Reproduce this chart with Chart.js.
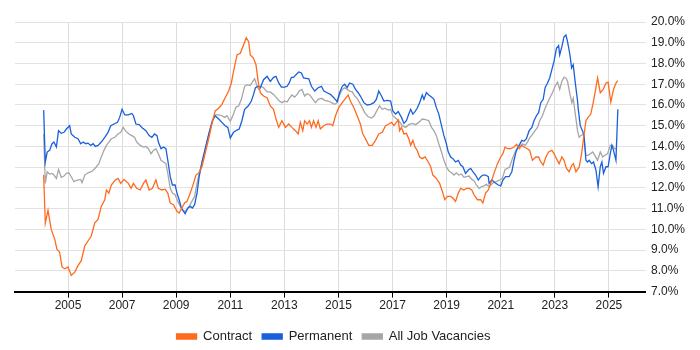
<!DOCTYPE html>
<html>
<head>
<meta charset="utf-8">
<script src="https://cdn.jsdelivr.net/npm/chart.js@4.4.1/dist/chart.umd.min.js"></script>
<style>
html,body{margin:0;padding:0;background:#fff;}
#wrap{width:700px;height:350px;}
</style>
</head>
<body>
<div id="wrap"><canvas id="c" width="700" height="350"></canvas></div>
<script>
const seriesNames = ["Contract", "Permanent", "All Job Vacancies"];
const xTickYears = [2005, 2007, 2009, 2011, 2013, 2015, 2017, 2019, 2021, 2023, 2025];
const yTickValues = [7, 8, 9, 10, 11, 12, 13, 14, 15, 16, 17, 18, 19, 20];

const contractYears = [2004.10,2004.16,2004.26,2004.38,2004.51,2004.59,2004.69,2004.78,2004.88,2005.00,2005.12,2005.25,2005.37,2005.49,2005.62,2005.74,2005.86,2005.99,2006.11,2006.23,2006.36,2006.42,2006.51,2006.60,2006.75,2006.85,2006.95,2007.07,2007.23,2007.33,2007.42,2007.54,2007.67,2007.79,2007.88,2008.00,2008.12,2008.25,2008.34,2008.47,2008.59,2008.69,2008.78,2008.90,2009.03,2009.11,2009.21,2009.31,2009.40,2009.52,2009.64,2009.73,2009.83,2009.95,2010.07,2010.20,2010.32,2010.44,2010.57,2010.69,2010.81,2010.94,2011.04,2011.12,2011.25,2011.37,2011.49,2011.59,2011.68,2011.74,2011.86,2011.95,2012.03,2012.11,2012.23,2012.36,2012.48,2012.60,2012.69,2012.79,2012.91,2013.04,2013.16,2013.28,2013.41,2013.51,2013.59,2013.68,2013.75,2013.84,2013.93,2014.00,2014.08,2014.17,2014.25,2014.33,2014.45,2014.58,2014.70,2014.79,2014.89,2015.01,2015.14,2015.23,2015.36,2015.44,2015.57,2015.69,2015.81,2015.90,2016.00,2016.12,2016.25,2016.37,2016.49,2016.62,2016.74,2016.86,2016.96,2017.05,2017.14,2017.21,2017.26,2017.33,2017.42,2017.51,2017.60,2017.67,2017.75,2017.83,2017.91,2018.00,2018.10,2018.20,2018.32,2018.41,2018.49,2018.62,2018.74,2018.84,2018.93,2019.03,2019.15,2019.23,2019.33,2019.43,2019.52,2019.64,2019.73,2019.83,2019.93,2020.01,2020.14,2020.26,2020.34,2020.44,2020.54,2020.63,2020.75,2020.88,2021.00,2021.08,2021.16,2021.25,2021.37,2021.49,2021.59,2021.68,2021.78,2021.86,2021.99,2022.07,2022.17,2022.30,2022.40,2022.48,2022.57,2022.67,2022.77,2022.89,2022.97,2023.06,2023.16,2023.26,2023.34,2023.43,2023.53,2023.63,2023.69,2023.78,2023.90,2023.99,2024.06,2024.15,2024.23,2024.33,2024.43,2024.52,2024.58,2024.68,2024.79,2024.89,2024.97,2025.07,2025.17,2025.26,2025.33];
const contractValues = [12.62,10.30,10.92,10.00,9.52,9.05,8.90,8.19,8.10,8.19,7.78,7.94,8.25,8.49,9.21,9.44,9.68,10.32,10.48,11.11,11.43,11.90,11.75,12.14,12.38,12.46,12.22,12.41,12.22,11.98,12.22,11.98,11.90,12.22,12.38,11.90,11.98,12.38,11.98,11.90,11.94,11.75,11.27,11.19,10.87,10.79,11.03,11.27,11.35,11.75,12.22,12.62,12.70,13.02,13.65,14.37,15.08,15.71,15.84,16.03,16.35,16.67,17.06,17.62,18.41,18.49,18.89,19.24,19.05,18.41,18.25,17.94,17.14,16.59,16.43,16.35,15.95,15.79,15.32,14.92,15.24,14.92,15.08,14.92,14.76,14.60,15.16,14.76,15.24,15.08,15.24,14.92,15.24,14.92,15.24,14.84,15.00,15.08,15.08,15.00,15.48,15.87,16.11,16.27,16.48,16.19,15.87,15.48,15.08,14.60,14.37,14.05,14.05,14.29,14.60,14.68,15.00,15.08,15.16,15.00,15.16,15.27,14.76,14.92,14.60,14.63,14.37,14.05,14.29,13.97,13.81,13.49,13.41,13.49,13.25,13.02,12.62,12.46,12.22,11.83,11.43,11.59,11.59,11.51,11.35,11.75,11.98,11.90,11.98,11.98,11.90,11.67,11.43,11.43,11.27,11.75,11.90,12.22,12.70,13.17,13.49,13.65,13.97,13.89,13.89,13.97,14.10,13.89,14.05,13.97,13.89,13.81,13.33,13.49,13.49,13.25,13.10,13.49,13.73,13.81,13.65,13.41,13.17,13.49,13.33,12.94,12.78,13.10,13.17,12.78,13.00,13.65,14.37,15.24,15.40,15.56,16.19,16.83,17.30,16.59,16.75,17.06,17.10,16.14,16.75,17.06,17.17];

const permanentYears = [2004.10,2004.16,2004.23,2004.32,2004.41,2004.48,2004.57,2004.65,2004.75,2004.85,2004.94,2005.06,2005.12,2005.25,2005.37,2005.47,2005.56,2005.66,2005.74,2005.84,2005.93,2006.01,2006.11,2006.23,2006.36,2006.48,2006.58,2006.70,2006.83,2006.91,2007.00,2007.10,2007.23,2007.36,2007.42,2007.51,2007.63,2007.75,2007.88,2008.00,2008.10,2008.20,2008.29,2008.34,2008.44,2008.53,2008.62,2008.69,2008.78,2008.86,2008.96,2009.03,2009.11,2009.19,2009.27,2009.33,2009.43,2009.52,2009.60,2009.68,2009.77,2009.85,2009.97,2010.10,2010.22,2010.34,2010.44,2010.57,2010.69,2010.81,2010.91,2011.00,2011.12,2011.25,2011.33,2011.43,2011.53,2011.66,2011.78,2011.86,2011.93,2012.03,2012.11,2012.23,2012.36,2012.48,2012.60,2012.69,2012.79,2012.89,2013.01,2013.10,2013.18,2013.26,2013.34,2013.43,2013.53,2013.63,2013.71,2013.84,2013.90,2014.00,2014.12,2014.25,2014.37,2014.46,2014.58,2014.70,2014.83,2014.95,2015.04,2015.14,2015.23,2015.32,2015.41,2015.53,2015.63,2015.73,2015.81,2015.94,2016.06,2016.19,2016.31,2016.40,2016.49,2016.59,2016.68,2016.80,2016.93,2017.01,2017.11,2017.21,2017.33,2017.42,2017.51,2017.60,2017.67,2017.75,2017.83,2017.91,2018.00,2018.10,2018.16,2018.25,2018.34,2018.44,2018.53,2018.62,2018.71,2018.81,2018.90,2018.99,2019.06,2019.15,2019.23,2019.33,2019.43,2019.52,2019.60,2019.70,2019.80,2019.89,2019.97,2020.07,2020.17,2020.26,2020.34,2020.44,2020.54,2020.57,2020.67,2020.79,2020.91,2021.00,2021.08,2021.18,2021.31,2021.41,2021.49,2021.58,2021.68,2021.78,2021.86,2021.95,2022.05,2022.15,2022.23,2022.32,2022.40,2022.48,2022.57,2022.64,2022.73,2022.81,2022.89,2022.97,2023.06,2023.14,2023.18,2023.26,2023.34,2023.41,2023.47,2023.56,2023.62,2023.68,2023.75,2023.84,2023.86,2023.94,2024.02,2024.08,2024.15,2024.21,2024.27,2024.36,2024.43,2024.52,2024.60,2024.68,2024.74,2024.80,2024.89,2024.97,2025.05,2025.11,2025.17,2025.26,2025.33];
const permanentValues = [15.75,13.25,13.73,13.81,14.13,14.21,13.97,14.76,14.63,14.68,14.84,15.00,14.60,14.44,14.37,14.13,14.21,14.13,14.16,14.05,14.13,14.00,14.05,14.21,14.44,14.68,15.00,15.08,15.16,15.40,15.79,15.52,15.52,15.59,15.48,15.08,15.05,14.89,14.76,14.52,14.44,14.60,14.52,14.21,13.89,13.97,13.89,13.33,12.54,12.14,12.14,11.75,11.43,11.03,10.87,10.76,11.03,11.11,11.03,11.19,11.75,12.54,13.33,14.05,14.68,15.24,15.48,15.32,15.16,15.00,14.92,14.41,14.68,14.79,14.84,15.24,15.79,15.95,16.19,16.51,16.83,16.90,16.83,17.22,17.38,17.14,17.33,17.38,17.06,16.86,16.86,16.90,17.06,17.33,17.33,17.46,17.59,17.54,17.30,17.27,17.27,16.90,16.67,16.83,16.90,16.67,16.59,16.51,16.35,16.16,16.59,16.90,17.00,16.83,17.06,17.00,16.75,16.59,16.43,16.11,16.00,16.03,16.11,16.27,16.67,16.43,16.19,16.22,16.19,15.71,15.56,15.68,15.40,15.11,15.24,15.56,15.79,15.56,15.68,15.84,16.11,16.48,16.27,16.59,16.48,16.38,16.27,15.87,15.56,15.00,14.52,14.13,13.73,13.49,13.41,13.25,13.33,13.10,13.02,12.70,12.86,12.94,12.78,12.62,12.38,12.54,12.62,12.62,12.54,12.22,12.38,12.25,12.14,12.10,12.38,12.54,12.54,12.78,13.33,13.81,14.05,14.29,14.25,14.37,14.76,14.92,15.24,15.48,15.63,16.11,16.27,16.83,17.06,17.30,17.70,18.10,18.73,18.86,18.41,18.81,19.29,19.37,19.05,18.41,17.78,17.94,17.14,16.19,15.87,15.00,14.76,14.52,13.33,13.25,13.33,13.17,13.25,12.86,12.06,13.02,13.25,12.70,13.02,13.02,13.65,14.05,13.81,13.33,15.79];

const allYears = [2004.10,2004.16,2004.23,2004.32,2004.41,2004.48,2004.57,2004.65,2004.75,2004.85,2004.94,2005.03,2005.12,2005.22,2005.34,2005.47,2005.52,2005.62,2005.74,2005.86,2005.96,2006.05,2006.14,2006.23,2006.33,2006.42,2006.51,2006.60,2006.73,2006.85,2006.95,2007.04,2007.12,2007.25,2007.36,2007.46,2007.54,2007.67,2007.79,2007.88,2007.97,2008.07,2008.16,2008.25,2008.34,2008.44,2008.53,2008.62,2008.69,2008.78,2008.86,2008.96,2009.06,2009.15,2009.23,2009.31,2009.40,2009.48,2009.58,2009.68,2009.77,2009.85,2009.97,2010.10,2010.22,2010.34,2010.44,2010.57,2010.69,2010.79,2010.88,2011.00,2011.12,2011.21,2011.31,2011.41,2011.53,2011.62,2011.74,2011.83,2011.90,2011.99,2012.05,2012.15,2012.23,2012.36,2012.48,2012.60,2012.73,2012.81,2012.91,2013.01,2013.10,2013.18,2013.28,2013.38,2013.47,2013.55,2013.65,2013.75,2013.84,2013.94,2014.03,2014.15,2014.25,2014.37,2014.49,2014.62,2014.74,2014.86,2014.95,2015.04,2015.14,2015.23,2015.32,2015.41,2015.51,2015.60,2015.69,2015.78,2015.88,2015.97,2016.10,2016.22,2016.32,2016.43,2016.52,2016.62,2016.71,2016.84,2016.93,2017.01,2017.11,2017.23,2017.36,2017.48,2017.60,2017.73,2017.85,2017.97,2018.10,2018.22,2018.34,2018.44,2018.53,2018.62,2018.71,2018.81,2018.90,2018.99,2019.08,2019.18,2019.27,2019.36,2019.45,2019.55,2019.64,2019.73,2019.83,2019.93,2020.01,2020.10,2020.20,2020.30,2020.38,2020.47,2020.57,2020.63,2020.72,2020.84,2020.96,2021.06,2021.16,2021.25,2021.33,2021.43,2021.53,2021.62,2021.70,2021.80,2021.90,2021.99,2022.07,2022.17,2022.27,2022.36,2022.44,2022.54,2022.64,2022.73,2022.81,2022.91,2023.01,2023.10,2023.18,2023.26,2023.34,2023.41,2023.47,2023.56,2023.63,2023.68,2023.75,2023.84,2023.90,2023.96,2024.06,2024.15,2024.23,2024.31,2024.40,2024.48,2024.58,2024.68,2024.77,2024.85,2024.95,2025.05,2025.14,2025.20,2025.26];
const allValues = [14.60,12.22,12.78,12.67,12.70,12.62,12.46,12.89,12.51,12.57,12.70,12.73,12.54,12.30,12.38,12.41,12.25,12.62,12.73,12.78,12.89,13.02,13.17,13.49,13.81,14.05,14.21,14.37,14.44,14.60,14.68,14.92,14.76,14.60,14.52,14.44,14.21,14.05,13.97,14.00,13.89,13.65,13.81,13.89,13.65,13.33,13.25,13.17,12.70,11.98,11.75,11.67,11.35,11.11,10.95,10.87,10.95,11.11,11.35,11.59,12.22,12.70,13.33,13.97,14.68,15.24,15.52,15.52,15.48,15.40,15.48,15.21,15.56,15.90,15.95,16.27,16.90,16.98,16.94,17.14,17.27,16.90,16.75,16.90,16.83,16.63,16.63,16.51,16.32,16.19,16.11,16.19,16.14,16.32,16.48,16.38,16.51,16.67,16.75,16.43,16.54,16.48,16.32,16.11,16.27,16.32,16.22,16.19,16.11,16.03,16.11,16.48,16.75,16.83,16.75,16.67,16.63,16.43,16.32,16.11,15.87,15.63,15.43,15.37,15.48,15.75,15.95,15.79,15.84,15.75,15.79,15.48,15.37,15.24,15.00,14.92,15.05,15.11,15.05,15.16,15.32,15.29,15.24,14.92,14.76,14.52,14.13,13.73,13.33,13.02,12.83,12.73,12.62,12.73,12.62,12.67,12.51,12.54,12.57,12.41,12.35,12.14,11.98,12.06,12.10,12.17,12.06,12.14,12.25,12.30,12.38,12.46,12.89,12.94,13.02,13.41,13.73,13.94,14.00,14.13,14.05,14.21,14.41,14.57,14.76,14.92,15.24,15.48,15.84,16.11,16.32,16.59,16.90,17.10,16.75,17.14,17.33,17.30,17.14,16.51,16.11,16.32,15.63,14.76,14.44,14.52,14.60,13.57,13.57,13.65,13.73,13.57,13.33,13.73,13.49,13.57,13.65,14.05,14.05,13.89,13.90];

const seriesColors = ["#ff6a1f", "#1a5fdc", "#a6a6a6"];

function toPoints(xs, ys) { return xs.map((x, i) => ({ x: x, y: ys[i] })); }

const datasets = [
  [contractYears, contractValues],
  [permanentYears, permanentValues],
  [allYears, allValues]
].map((s, i) => ({
  label: seriesNames[i],
  data: toPoints(s[0], s[1]),
  borderColor: seriesColors[i],
  backgroundColor: seriesColors[i],
  borderWidth: 1.3,
  pointRadius: 0,
  tension: 0,
  fill: false
}));

// Center the legend under the plot area and nudge it down a little
const legendShift = {
  id: "legendShift",
  afterLayout(chart) {
    const lg = chart.legend;
    if (!lg) return;
    const target = (chart.chartArea.left + chart.chartArea.right) / 2 + 3;
    const dx = target - (lg.left + lg.right) / 2;
    lg.left += dx; lg.right += dx;
    lg.top += 3; lg.bottom += 3;
  }
};

Chart.defaults.font.family = "'Liberation Sans', Arial, sans-serif";
Chart.defaults.color = "#222";

new Chart(document.getElementById("c"), {
  type: "line",
  data: { datasets: datasets },
  plugins: [legendShift],
  options: {
    responsive: false,
    animation: false,
    layout: { padding: { left: 15, right: 10, top: 22, bottom: 0 } },
    plugins: {
      legend: {
        position: "bottom",
        labels: { boxWidth: 20, boxHeight: 5, padding: 10, font: { size: 13 }, color: "#222" }
      },
      tooltip: { enabled: false }
    },
    scales: {
      x: {
        type: "linear",
        min: 2003.04,
        max: 2026.37,
        afterBuildTicks: (axis) => { axis.ticks = xTickYears.map(v => ({ value: v })); },
        afterFit: (axis) => { axis.height += 3; },
        ticks: { callback: (v) => String(v), font: { size: 12 }, padding: 1, maxRotation: 0, autoSkip: false },
        grid: { color: "#dcdcdc", tickColor: "#000", tickLength: 6 },
        border: { color: "#000", width: 2 }
      },
      y: {
        position: "right",
        min: 7,
        max: 20,
        afterBuildTicks: (axis) => { axis.ticks = yTickValues.map(v => ({ value: v })); },
        ticks: { callback: (v) => v.toFixed(1) + "%", font: { size: 12 }, padding: 5 },
        grid: { color: "#e2e2e2", drawTicks: false },
        border: { display: false }
      }
    }
  }
});
</script>
</body>
</html>
